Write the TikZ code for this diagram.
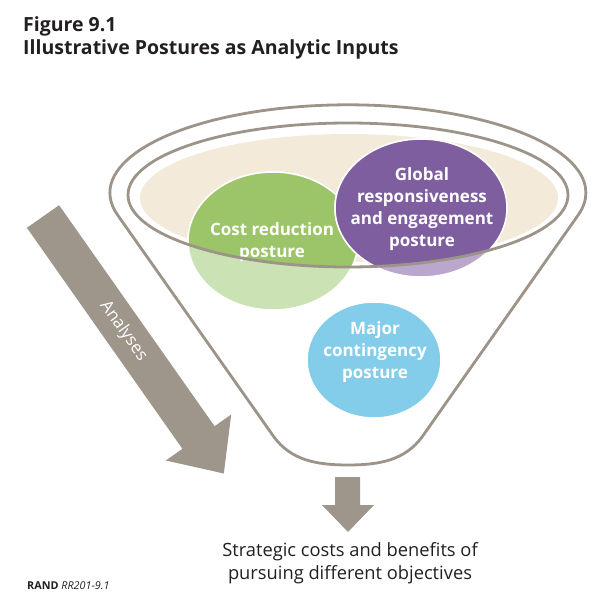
\documentclass[tikz,border=0pt]{standalone}
\usepackage{fontspec}
\setmainfont{Open Sans}
\definecolor{fgray}{HTML}{9C9389}
\definecolor{agray}{HTML}{9E958B}
\definecolor{beige}{HTML}{F3EAD9}
\definecolor{gdark}{HTML}{9BC568}
\definecolor{glight}{HTML}{CBE2B4}
\definecolor{pdark}{HTML}{7F5EA0}
\definecolor{plight}{HTML}{BBA7CD}
\definecolor{bblue}{HTML}{84CDEA}
\definecolor{ink}{HTML}{231F20}
\begin{document}
\begin{tikzpicture}[x=1pt,y=-1pt,
  funnel/.style={draw=fgray,line width=2.8pt},
  blob/.style={draw=white,line width=1.5pt},
  blobtext/.style={text=white,font=\bfseries\fontsize{17}{22}\selectfont,align=center},
  titletext/.style={text=ink,font=\bfseries\fontsize{19.5}{24}\selectfont,anchor=base west,inner sep=0pt},
  bottomtext/.style={text=ink,font=\fontsize{18.3}{23}\selectfont,align=center}]
\useasboundingbox (0,0) rectangle (611,607);

% title
\node[titletext] (title) at (23,32) {Figure 9.1};
\node[titletext] (subtitle) at (23,55) {Illustrative Postures as Analytic Inputs};

% beige interior
\fill[beige] (349,198) ellipse [x radius=209, y radius=64];

% funnel outer outline
\draw[funnel,line join=round] (274,437) -- (117.6,215)
  arc[start angle=165.4, end angle=374.6, x radius=238, y radius=88]
  -- (422,437) .. controls (405,460) and (380,465) .. (348,465)
  .. controls (316,465) and (291,460) .. (274,437) -- cycle;

% green posture
\fill[glight,blob] (273,241) ellipse [x radius=85, y radius=69];
\begin{scope}
  \clip (348,195) ellipse [x radius=220, y radius=72];
  \fill[gdark,blob] (273,241) ellipse [x radius=85, y radius=69];
\end{scope}
% purple posture
\fill[plight,blob] (421,208) ellipse [x radius=86, y radius=69];
\begin{scope}
  \clip (348,195) ellipse [x radius=220, y radius=72];
  \fill[pdark,blob] (421,208) ellipse [x radius=86, y radius=69];
\end{scope}
% blue posture
\fill[bblue,blob] (374,360) ellipse [x radius=67, y radius=58];

\node[blobtext] (cost) at (272,242) {Cost reduction\\posture};
\node[blobtext] (global) at (422,209) {Global\\responsiveness\\and engagement\\posture};
\node[blobtext] (major) at (375,352) {Major\\contingency\\posture};

% inner rim
\draw[funnel] (348,195) ellipse [x radius=220, y radius=72];

% big analyses arrow
\fill[agray] (26.9,227.8) -- (59.1,205.2) -- (214.6,426.2) -- (231.2,414.5)
  -- (223.8,473.5) -- (165.8,460.5) -- (182.4,448.8) -- cycle;
\node[text=white,font=\fontsize{17}{20}\selectfont,rotate=-54.8,inner sep=0pt] (analyses) at (123.5,331) {Analyses};

% small output arrow
\fill[agray] (335,477) -- (360,477) -- (360,505) -- (374,505) -- (348,532)
  -- (322,505) -- (335,505) -- cycle;

\node[bottomtext] (result) at (350,563) {Strategic costs and benefits of\\pursuing different objectives};

\node[anchor=base west,inner sep=0pt,text=ink,font=\fontsize{10.8}{12}\selectfont] (rand) at (27,589) {\textbf{RAND} \textit{RR201-9.1}};
\end{tikzpicture}
\end{document}
